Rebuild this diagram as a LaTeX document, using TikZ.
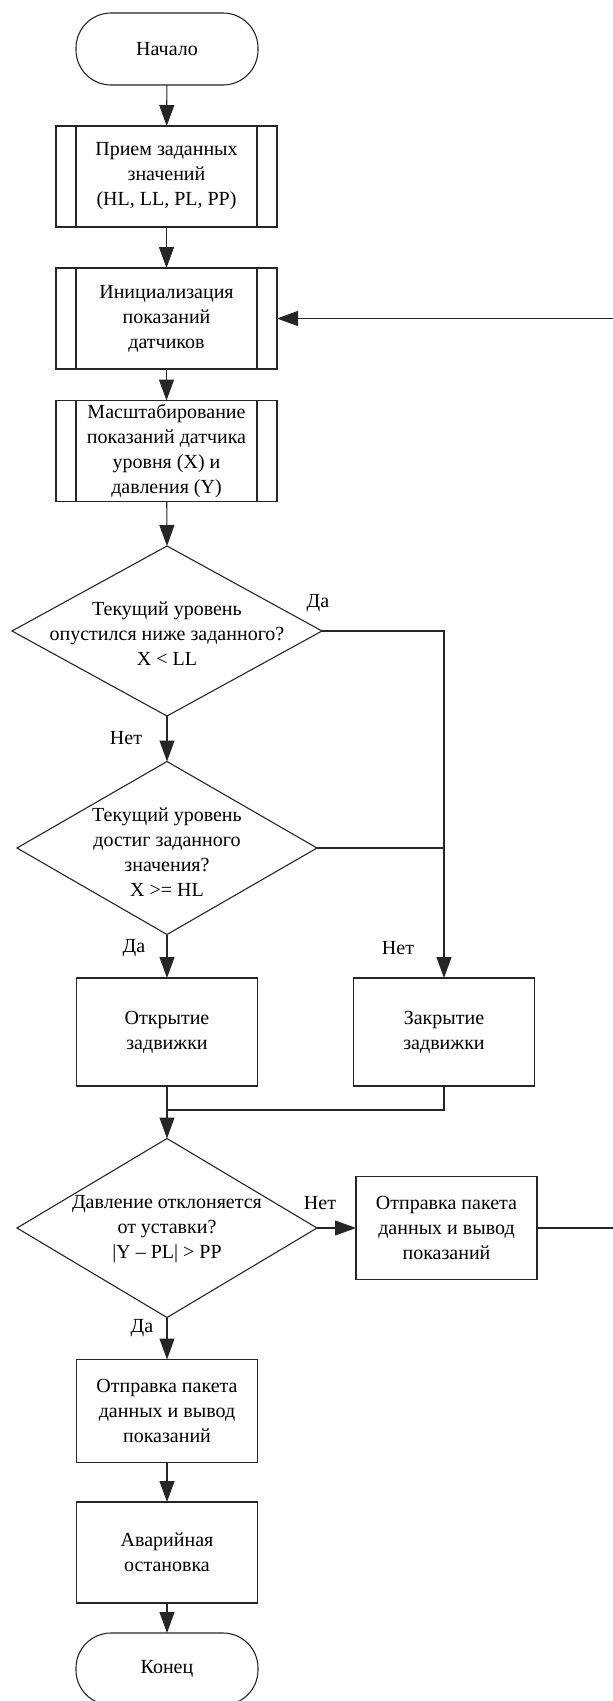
\documentclass[tikz,border=0pt]{standalone}
\usepackage{fontspec}
\setmainfont{Liberation Serif}
\usetikzlibrary{shapes.geometric,arrows.meta}
\begin{document}
\begin{tikzpicture}[x=1pt,y=-1pt,
  every node/.style={font=\fontsize{20}{25}\selectfont, align=center},
  lw/.style={line width=1.1pt, draw=black!85},
  term/.style={lw, rectangle, rounded corners=35pt, minimum width=182pt, minimum height=72pt, inner sep=0pt, outer sep=0pt},
  proc/.style={lw, rectangle, minimum width=181pt, minimum height=104pt, inner sep=0pt, outer sep=0pt},
  pre/.style={lw, rectangle, minimum width=221pt, minimum height=101pt, inner sep=0pt, outer sep=0pt},
  dia/.style={lw, diamond, inner sep=0pt, outer sep=0pt},
  txt/.style={inner sep=0pt},
  lbl/.style={inner sep=0pt},
  conn/.style={line width=1.1pt, draw=black!85},
  arr/.style={conn, -{Triangle[length=21pt,width=15pt]}}
]
\useasboundingbox (0,0) rectangle (613,1701);
\fill[white] (0,0) rectangle (613,1701);

% nodes
\node[term] (start) at (167,49) {Начало};
\node[pre] (b1) at (166.5,176.5) {Прием заданных\\значений\\(HL, LL, PL, PP)};
\node[pre] (b2) at (166.5,318.5) {Инициализация\\показаний\\датчиков};
\node[pre] (b3) at (166.5,451) {Масштабирование\\показаний датчика\\уровня (X) и\\давления (Y)};
\foreach \n in {b1,b2,b3}{
  \draw[lw] ([xshift=20pt]\n.north west) -- ([xshift=20pt]\n.south west);
  \draw[lw] ([xshift=-20pt]\n.north east) -- ([xshift=-20pt]\n.south east);
}

\node[dia, minimum width=310pt, minimum height=170pt] (d1) at (167,631) {};
\node[txt] (d1t) at (167,634) {Текущий уровень\\опустился ниже заданного?\\X < LL};

\node[dia, minimum width=300pt, minimum height=173pt] (d2) at (167,848) {};
\node[txt] (d2t) at (167,852) {Текущий уровень\\достиг заданного\\значения?\\X >= HL};

\node[proc, minimum height=108pt] (open) at (167,1032) {Открытие\\задвижки};
\node[proc, minimum height=108pt] (close) at (444,1032) {Закрытие\\задвижки};
\coordinate (m) at (167,1110);

\node[dia, minimum width=300pt, minimum height=179pt] (d3) at (167,1228) {};
\node[txt] (d3t) at (167,1229) {Давление отклоняется\\от уставки?\\|Y -- PL| > PP};

\node[proc, minimum height=103pt] (send1) at (446.5,1228) {Отправка пакета\\данных и вывод\\показаний};

\node[proc, minimum height=103pt] (send2) at (167,1411) {Отправка пакета\\данных и вывод\\показаний};
\node[proc, minimum height=101pt] (emerg) at (167,1552.5) {Аварийная\\остановка};
\node[term] (end) at (167,1669) {Конец};

\coordinate (r1) at (615,1228);
\coordinate (r2) at (615,318.5);

% connectors
\draw[arr] (start) -- (b1);
\draw[arr] (b1) -- (b2);
\draw[arr] (b2) -- (b3);
\draw[arr] (b3) -- (d1.north);
\draw[arr] (d1.south) -- (d2.north);
\draw[arr] (d1.east) -| (close.north);
\draw[conn] (d2.east) -- (d2.east -| close.north);
\draw[arr] (d2.south) -- (open.north);
\draw[conn] (close.south) |- (m);
\draw[arr] (open.south) -- (d3.north);
\draw[arr] (d3.east) -- (send1.west);
\draw[arr] (send1.east) -- (r1) -- (r2) -- (b2.east);
\draw[arr] (d3.south) -- (send2.north);
\draw[arr] (send2) -- (emerg);
\draw[arr] (emerg) -- (end);

% labels
\node[lbl] (l1) at (318,603) {Да};
\node[lbl] (l2) at (126,738) {Нет};
\node[lbl] (l3) at (134,948) {Да};
\node[lbl] (l4) at (398,948) {Нет};
\node[lbl] (l5) at (320,1203) {Нет};
\node[lbl] (l6) at (142,1328) {Да};
\end{tikzpicture}
\end{document}
